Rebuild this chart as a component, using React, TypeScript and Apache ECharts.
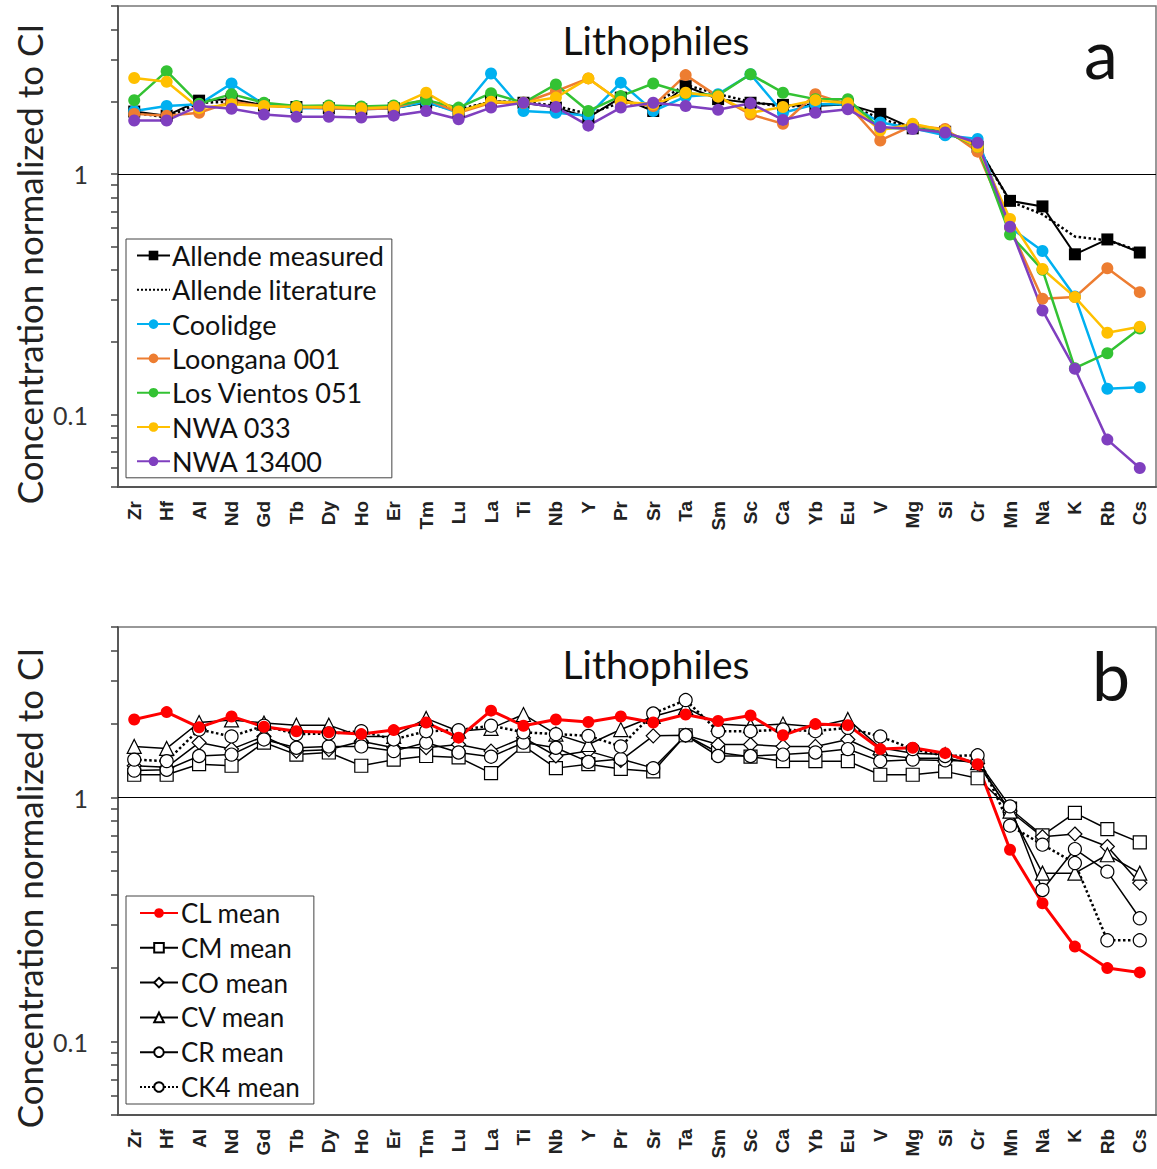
import React, { useEffect, useRef } from 'react';
import * as echarts from 'echarts';

const categories = ['Zr','Hf','Al','Nd','Gd','Tb','Dy','Ho','Er','Tm','Lu','La','Ti','Nb','Y','Pr','Sr','Ta','Sm','Sc','Ca','Yb','Eu','V','Mg','Si','Cr','Mn','Na','K','Rb','Cs'];

// Panel a
const allendeMeasured = [1.82,1.75,2.02,2.05,1.93,1.90,1.88,1.86,1.88,1.98,1.82,2.01,1.98,1.89,1.72,2.08,1.83,2.32,2.05,1.98,1.94,1.92,1.95,1.78,1.55,1.50,1.30,0.774,0.734,0.464,0.535,0.472];
const allendeLiterature = [1.80,1.72,1.98,2.00,1.95,1.92,1.90,1.88,1.90,2.00,1.86,2.00,2.00,1.92,1.78,1.98,1.95,2.35,2.15,2.00,1.90,1.95,1.95,1.70,1.55,1.50,1.30,0.77,0.68,0.55,0.53,0.48];
const coolidge = [1.83,1.92,1.95,2.38,1.95,1.88,1.88,1.86,1.88,2.00,1.80,2.62,1.83,1.80,1.75,2.40,1.83,2.10,2.15,2.60,1.80,1.95,1.95,1.64,1.55,1.45,1.40,0.60,0.479,0.31,0.128,0.13];
const loongana001 = [1.78,1.75,1.80,2.00,1.92,1.90,1.88,1.86,1.88,2.05,1.80,1.98,1.98,2.21,2.50,2.00,1.92,2.58,2.10,1.77,1.62,2.15,1.95,1.38,1.59,1.54,1.24,0.60,0.303,0.308,0.406,0.323];
const losVientos051 = [2.03,2.68,1.96,2.15,1.98,1.92,1.93,1.91,1.93,2.03,1.89,2.17,1.98,2.36,1.83,2.11,2.38,2.17,2.13,2.60,2.18,2.05,2.05,1.55,1.55,1.50,1.30,0.561,0.40,0.156,0.18,0.228];
const nwa033 = [2.51,2.42,1.88,1.95,1.92,1.90,1.90,1.88,1.90,2.18,1.82,2.00,1.98,2.08,2.50,2.00,1.95,2.18,2.10,1.80,1.90,2.03,1.97,1.52,1.62,1.52,1.30,0.651,0.403,0.308,0.219,0.232];
const nwa13400 = [1.67,1.67,1.92,1.87,1.77,1.73,1.73,1.72,1.75,1.83,1.69,1.89,1.98,1.90,1.59,1.89,1.98,1.92,1.85,1.97,1.68,1.80,1.86,1.57,1.54,1.49,1.35,0.604,0.271,0.155,0.0787,0.06];

// Panel b
const clMean = [2.09,2.24,1.94,2.15,1.95,1.87,1.85,1.82,1.89,2.03,1.76,2.27,1.97,2.09,2.04,2.15,2.03,2.19,2.06,2.17,1.80,2.00,1.98,1.58,1.60,1.52,1.37,0.611,0.369,0.245,0.20,0.192];
const cmMean = [1.24,1.24,1.37,1.35,1.68,1.50,1.53,1.35,1.43,1.48,1.46,1.26,1.63,1.32,1.37,1.31,1.28,1.80,1.53,1.47,1.41,1.41,1.41,1.24,1.24,1.28,1.20,0.90,0.70,0.865,0.743,0.655];
const coMean = [1.35,1.33,1.68,1.58,1.78,1.55,1.57,1.70,1.60,1.60,1.65,1.55,1.76,1.48,1.55,1.42,1.79,1.80,1.65,1.65,1.62,1.62,1.73,1.50,1.45,1.45,1.38,0.88,0.69,0.709,0.63,0.446];
const cvMean = [1.62,1.59,2.03,2.08,2.02,1.98,1.98,1.78,1.78,2.11,1.87,1.92,2.19,1.82,1.65,1.90,2.15,2.34,2.00,1.97,2.00,1.95,2.09,1.60,1.52,1.50,1.39,0.88,0.49,0.49,0.583,0.49];
const crMean = [1.29,1.30,1.48,1.50,1.73,1.60,1.62,1.62,1.55,1.68,1.53,1.47,1.68,1.60,1.40,1.44,1.32,1.80,1.48,1.48,1.50,1.53,1.58,1.41,1.43,1.42,1.41,0.92,0.418,0.615,0.497,0.32];
const ck4Mean = [1.43,1.41,1.90,1.78,1.97,1.82,1.83,1.87,1.73,1.87,1.89,1.97,1.85,1.82,1.79,1.62,2.21,2.51,1.87,1.87,1.90,1.87,1.93,1.78,1.58,1.48,1.49,0.767,0.641,0.539,0.26,0.26];

const tickValues = [0.05,0.06,0.07,0.08,0.09,0.1,0.2,0.3,0.4,0.5,0.6,0.7,0.8,0.9,1,2,3,4,5];
const labelValues = [0.1, 1];
const panelTitle = 'Lithophiles';
const yName = 'Concentration normalized to CI';

const FONT = 'Lato, "Open Sans", sans-serif';
const AXFONT = '"Liberation Sans", Arial, sans-serif';

const COLORS = {
  blue: '#00B0F0',
  orange: '#ED7D31',
  green: '#33C233',
  yellow: '#FFC000',
  purple: '#7F3FBF',
  red: '#FF0000',
};

function buildOption() {
  const grids = [
    { left: 118, top: 6, right: 1, height: 481, show: true, borderColor: '#777', borderWidth: 1.5, backgroundColor: '#fff' },
    { left: 118, top: 627, right: 1, height: 488, show: true, borderColor: '#777', borderWidth: 1.5, backgroundColor: '#fff' },
  ];
  const xAxes = [0, 1].map((g) => ({
    type: 'category',
    gridIndex: g,
    data: categories,
    boundaryGap: true,
    axisLine: { show: true, lineStyle: { color: '#555', width: 2 } },
    axisTick: { show: false },
    axisLabel: { rotate: 90, margin: 14, fontSize: 19, fontWeight: 'bold', color: '#222', fontFamily: AXFONT, interval: 0 },
    splitLine: { show: false },
  }));
  const yAxes = [0, 1].map((g) => ({
    type: 'log',
    logBase: 10,
    gridIndex: g,
    min: 0.05,
    max: 5,
    axisLine: { show: true, lineStyle: { color: '#444', width: 1.5 } },
    axisTick: { show: true, inside: false, length: 7, customValues: tickValues, lineStyle: { color: '#444', width: 1.5 } },
    axisLabel: { customValues: labelValues, margin: 30, fontSize: 25, color: '#333', fontFamily: FONT, formatter: (v: number) => String(v) },
    splitLine: { show: false },
    minorTick: { show: false },
  }));

  const oneLine = {
    silent: true,
    symbol: 'none',
    label: { show: false },
    lineStyle: { color: '#000', width: 1.2, type: 'solid' },
    data: [{ yAxis: 1 }],
  };

  const aSeries = (name: string, data: number[], color: string, extra: any = {}) => ({
    name,
    type: 'line',
    xAxisIndex: 0,
    yAxisIndex: 0,
    data,
    symbol: 'circle',
    symbolSize: 12,
    lineStyle: { color, width: 2.5 },
    itemStyle: { color },
    ...extra,
  });

  const bSeries = (name: string, data: number[], symbol: string, size: number, extra: any = {}) => ({
    name,
    type: 'line',
    xAxisIndex: 1,
    yAxisIndex: 1,
    data,
    symbol,
    symbolSize: size,
    lineStyle: { color: '#000', width: 1.5 },
    itemStyle: { color: '#fff', borderColor: '#000', borderWidth: 1.2 },
    ...extra,
  });

  const series: any[] = [
    aSeries('Allende measured', allendeMeasured, '#000', { symbol: 'rect', symbolSize: 12, lineStyle: { color: '#000', width: 2 }, markLine: oneLine }),
    aSeries('Allende literature', allendeLiterature, '#000', { symbol: 'none', lineStyle: { color: '#000', width: 2.5, type: 'dotted' } }),
    aSeries('Coolidge', coolidge, COLORS.blue),
    aSeries('Loongana 001', loongana001, COLORS.orange),
    aSeries('Los Vientos 051', losVientos051, COLORS.green),
    aSeries('NWA 033', nwa033, COLORS.yellow),
    aSeries('NWA 13400', nwa13400, COLORS.purple),

    bSeries('CM mean', cmMean, 'rect', 13, { markLine: oneLine }),
    bSeries('CO mean', coMean, 'diamond', 14),
    bSeries('CV mean', cvMean, 'triangle', 14),
    bSeries('CR mean', crMean, 'circle', 13),
    bSeries('CK4 mean', ck4Mean, 'circle', 13, { lineStyle: { color: '#000', width: 2.5, type: 'dotted' } }),
    bSeries('CL mean', clMean, 'circle', 12, { lineStyle: { color: COLORS.red, width: 3 }, itemStyle: { color: COLORS.red, borderColor: COLORS.red, borderWidth: 0 } }),
  ];

  const legendBase = {
    orient: 'vertical',
    itemHeight: 12,
    borderColor: '#444',
    borderWidth: 1,
    backgroundColor: '#fff',
    selectedMode: false,
  };

  const legends = [
    {
      ...legendBase,
      left: 126,
      top: 239,
      itemWidth: 33,
      itemGap: 7.3,
      padding: [3, 8, 3, 10],
      textStyle: { fontSize: 27, fontFamily: FONT, color: '#111', lineHeight: 27, padding: [0, 0, 0, -3] },
      data: [
        'Allende measured',
        { name: 'Allende literature', itemStyle: { opacity: 0 } },
        'Coolidge', 'Loongana 001', 'Los Vientos 051', 'NWA 033', 'NWA 13400',
      ],
    },
    {
      ...legendBase,
      left: 126,
      top: 896,
      itemWidth: 38,
      itemGap: 8.8,
      padding: [4, 14, 4, 13],
      textStyle: { fontSize: 26, fontFamily: FONT, color: '#111', lineHeight: 26, padding: [0, 0, 0, -2] },
      data: ['CL mean', 'CM mean', 'CO mean', 'CV mean', 'CR mean', 'CK4 mean'],
    },
  ];

  const graphic = [
    { type: 'text', x: 656, y: 40, style: { text: panelTitle, font: `39px ${FONT}`, fill: '#111', align: 'center', verticalAlign: 'middle' } },
    { type: 'text', x: 656, y: 664, style: { text: panelTitle, font: `39px ${FONT}`, fill: '#111', align: 'center', verticalAlign: 'middle' } },
    { type: 'text', x: 1101, y: 52, style: { text: 'a', font: `68px ${FONT}`, fill: '#111', align: 'center', verticalAlign: 'middle' } },
    { type: 'text', x: 1111, y: 674, style: { text: 'b', font: `68px ${FONT}`, fill: '#111', align: 'center', verticalAlign: 'middle' } },
    { type: 'text', x: 29, y: 264, rotation: Math.PI / 2, style: { text: yName, font: `35px ${FONT}`, fill: '#222', align: 'center', verticalAlign: 'middle' } },
    { type: 'text', x: 29, y: 888, rotation: Math.PI / 2, style: { text: yName, font: `35px ${FONT}`, fill: '#222', align: 'center', verticalAlign: 'middle' } },
  ];

  return {
    animation: false,
    backgroundColor: '#fff',
    grid: grids,
    xAxis: xAxes,
    yAxis: yAxes,
    legend: legends,
    series,
    graphic,
  };
}

export default function App() {
  const ref = useRef<HTMLDivElement>(null);
  useEffect(() => {
    document.body.style.margin = '0';
    const chart = echarts.init(ref.current as HTMLDivElement, null, { renderer: 'svg' });
    chart.setOption(buildOption() as any);
    return () => {
      chart.dispose();
    };
  }, []);
  return <div ref={ref} style={{ width: 1157, height: 1169 }} />;
}
